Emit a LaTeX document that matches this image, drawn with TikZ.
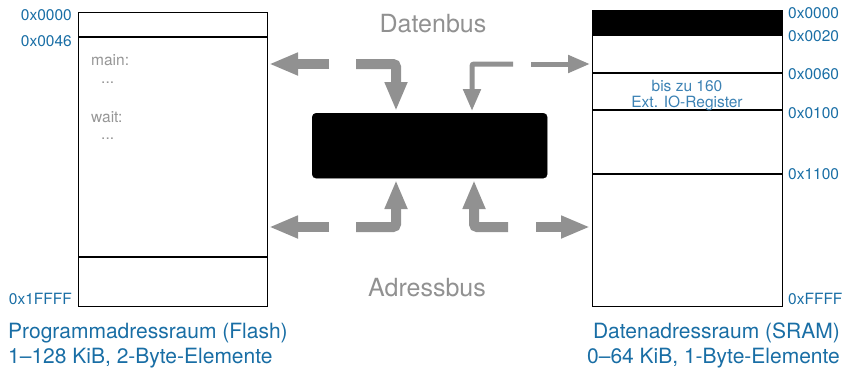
\documentclass[tikz,border=0pt]{standalone}
\usepackage{fontspec}
\setmainfont{TeX Gyre Heros}
\usetikzlibrary{arrows.meta}
\definecolor{addr}{RGB}{25,110,165}
\definecolor{lblue}{RGB}{60,130,180}
\definecolor{busgray}{RGB}{145,145,145}
\definecolor{txtgray}{RGB}{150,150,150}
\tikzset{
  memline/.style={line width=1.2pt, draw=black},
  addrlbl/.style={font=\fontsize{15.5}{16}\selectfont, text=addr, inner sep=0pt},
  codelbl/.style={font=\fontsize{15.5}{16}\selectfont, text=txtgray, inner sep=0pt, anchor=base west},
  buslbl/.style={font=\fontsize{25}{28}\selectfont, text=busgray, inner sep=0pt, anchor=base},
  titlelbl/.style={font=\fontsize{21}{25}\selectfont, text=addr, inner sep=0pt},
  thickbus/.style={draw=busgray, line width=10pt, rounded corners=3pt,
     -{Triangle[length=29pt,width=21pt]}},
  thinbus/.style={draw=busgray, line width=5pt, rounded corners=2pt,
     -{Triangle[length=22pt,width=17pt]}},
}
\begin{document}
\begin{tikzpicture}[x=1pt,y=-1pt]
\useasboundingbox (0,0) rectangle (843,370);

% left memory (flash)
\node[memline, draw, rectangle, minimum width=189pt, minimum height=294pt, anchor=north west, inner sep=0pt] (flash) at (78,12) {};
\draw[memline] (78,37) -- (267,37);
\draw[memline] (78,257) -- (267,257);
\node[addrlbl, anchor=base east] (f0) at (72,20) {0x0000};
\node[addrlbl, anchor=base east] (f46) at (72,46) {0x0046};
\node[addrlbl, anchor=base east] (fend) at (72,304) {0x1FFFF};
\node[codelbl] (main) at (91,65) {main:};
\node[codelbl] (dots1) at (101,83) {...};
\node[codelbl] (wait) at (91,122) {wait:};
\node[codelbl] (dots2) at (101,139) {...};

% right memory (SRAM)
\fill[black] (592,10) rectangle (782,36);
\node[memline, draw, rectangle, minimum width=190pt, minimum height=296pt, anchor=north west, inner sep=0pt] (sram) at (592,10) {};
\draw[memline] (592,73) -- (782,73);
\draw[memline] (592,110) -- (782,110);
\draw[memline] (592,174) -- (782,174);
\node[font=\fontsize{15.5}{16}\selectfont, text=lblue, inner sep=0pt, anchor=base] (io1) at (687,91) {bis zu 160};
\node[font=\fontsize{15.5}{16}\selectfont, text=lblue, inner sep=0pt, anchor=base] (io2) at (687,107) {Ext. IO-Register};
\node[addrlbl, anchor=base west] (s0) at (788,18) {0x0000};
\node[addrlbl, anchor=base west] (s20) at (788,41) {0x0020};
\node[addrlbl, anchor=base west] (s60) at (788,79) {0x0060};
\node[addrlbl, anchor=base west] (s100) at (788,118) {0x0100};
\node[addrlbl, anchor=base west] (s1100) at (788,179) {0x1100};
\node[addrlbl, anchor=base west] (send) at (788,304) {0xFFFF};

% CPU block
\node[fill=black, draw=black, rounded corners=4pt, minimum width=235pt, minimum height=65pt, anchor=north west, inner sep=0pt] (cpu) at (312,113) {};

% bus labels
\node[buslbl] (datenbus) at (433,32) {Datenbus};
\node[buslbl] (adressbus) at (427,296) {Adressbus};

% coordinates for bus arrows
\coordinate (dA1) at (329,64); \coordinate (dA2) at (269,64);
\coordinate (dB1) at (356,64); \coordinate (dB2) at (396,111);
\coordinate (dC1) at (513,64); \coordinate (dC2) at (472,111);
\coordinate (dD1) at (531,64); \coordinate (dD2) at (590,64);
\coordinate (aA1) at (329,227); \coordinate (aA2) at (269,227);
\coordinate (aB1) at (356,227); \coordinate (aB2) at (396,180);
\coordinate (aC1) at (508,227); \coordinate (aC2) at (474,180);
\coordinate (aD1) at (536,227); \coordinate (aD2) at (590,227);

\draw[thickbus] (dA1) -- (dA2);
\draw[thickbus] (dB1) -| (dB2);
\draw[thinbus] (dC1) -| (dC2);
\draw[thinbus] (dD1) -- (dD2);
\draw[thickbus] (aA1) -- (aA2);
\draw[thickbus] (aB1) -| (aB2);
\draw[thickbus] (aC1) -| (aC2);
\draw[thickbus] (aD1) -- (aD2);

% titles
\node[titlelbl, anchor=base west] (ftitle1) at (8,338) {Programmadressraum (Flash)};
\node[titlelbl, anchor=base west] (ftitle2) at (8,363) {1–128 KiB, 2-Byte-Elemente};
\node[titlelbl, anchor=base east] (stitle1) at (840,338) {Datenadressraum (SRAM)};
\node[titlelbl, anchor=base east] (stitle2) at (840,363) {0–64 KiB, 1-Byte-Elemente};
\end{tikzpicture}
\end{document}
